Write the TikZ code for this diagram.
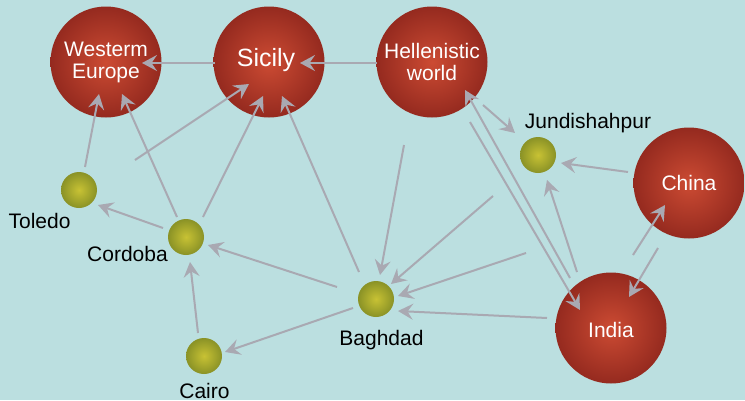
\documentclass[tikz,border=0pt]{standalone}
\usepackage{fontspec}
\setmainfont{Liberation Sans}
\usetikzlibrary{arrows.meta}
\definecolor{bg}{HTML}{BBDFE0}
\definecolor{redin}{HTML}{CC4B33}
\definecolor{redout}{HTML}{952A1F}
\definecolor{grin}{HTML}{C8C234}
\definecolor{grout}{HTML}{8A9226}
\definecolor{arrc}{HTML}{A9A9B2}
\pgfdeclareradialshading{redball}{\pgfpoint{0bp}{0bp}}{color(0bp)=(redin); color(25bp)=(redout); color(50bp)=(redout)}
\pgfdeclareradialshading{greenball}{\pgfpoint{0bp}{0bp}}{color(0bp)=(grin); color(25bp)=(grout); color(50bp)=(grout)}
\begin{document}
\begin{tikzpicture}[x=1pt,y=-1pt,
  big/.style={circle, minimum size=111pt, inner sep=0pt, shading=redball, text=white,
    font=\fontsize{21}{22}\selectfont, align=center},
  small/.style={circle, minimum size=36pt, inner sep=0pt, shading=greenball},
  lbl/.style={anchor=base, font=\fontsize{21}{22}\selectfont, text=black, inner sep=0pt},
  arr/.style={draw=arrc, line width=2pt, -{Stealth[length=15pt,width=16pt,inset=5.5pt]}}]
\fill[bg] (0,0) rectangle (745,400);
\useasboundingbox (0,0) rectangle (745,400);

% big nodes
\node[big] (we)  at (106,62)  {Westerm\\Europe};
\node[big, font=\fontsize{25}{27}\selectfont, text depth=10pt] (sic) at (269,62) {\hspace*{-6pt}Sicily};
\node[big] (hel) at (432,62)  {Hellenistic\\world};
\node[big] (chi) at (689,183) {China};
\node[big, text height=20pt] (ind) at (611,328) {India};

% small nodes
\node[small] (tol) at (79,190)  {};
\node[small] (cor) at (186,237) {};
\node[small] (cai) at (204,356) {};
\node[small] (bag) at (376,299) {};
\node[small] (jun) at (538,155) {};

% labels
\node[lbl] (toll) at (39.5,228) {Toledo};
\node[lbl] (corl) at (127.5,261) {Cordoba};
\node[lbl] (cail) at (204.5,398) {Cairo};
\node[lbl] (bagl) at (381.5,345) {Baghdad};
\node[lbl] (junl) at (588,128) {Jundishahpur};

% free ends
\coordinate (f5)  at (135,160);
\coordinate (f10) at (404,145);
\coordinate (f11) at (493,196);
\coordinate (f12) at (526,253);
\coordinate (f22) at (470,122);

% connectors
\draw[arr] ([shift={(-54,1)}]sic.center) -- ([shift={(36,1)}]we.center);
\draw[arr] ([shift={(-55,1)}]hel.center) -- ([shift={(31,1)}]sic.center);
\draw[arr] ([shift={(6,-23)}]tol.center) -- ([shift={(-7,32)}]we.center);
\draw[arr] ([shift={(-9,-20)}]cor.center) -- ([shift={(16,32)}]we.center);
\draw[arr] (f5) -- ([shift={(-20,22)}]sic.center);
\draw[arr] ([shift={(17,-20)}]cor.center) -- ([shift={(-6,34)}]sic.center);
\draw[arr] ([shift={(-17,-27)}]bag.center) -- ([shift={(13,34)}]sic.center);
\draw[arr] ([shift={(51,43)}]hel.center) -- ([shift={(-23,-22)}]jun.center);
\draw[arr] ([shift={(-41,-50)}]ind.center) -- ([shift={(33,28)}]hel.center);
\draw[arr] (f10) -- ([shift={(4,-24)}]bag.center);
\draw[arr] (f11) -- ([shift={(15,-15)}]bag.center);
\draw[arr] (f12) -- ([shift={(22,-3)}]bag.center);
\draw[arr] ([shift={(-64,-10)}]ind.center) -- ([shift={(22,12)}]bag.center);
\draw[arr] ([shift={(-39,-12)}]bag.center) -- ([shift={(22,8)}]cor.center);
\draw[arr] ([shift={(-23,9)}]bag.center) -- ([shift={(21,-4)}]cai.center);
\draw[arr] ([shift={(-6,-23)}]cai.center) -- ([shift={(4,25)}]cor.center);
\draw[arr] ([shift={(-23,-9)}]cor.center) -- ([shift={(19,15)}]tol.center);
\draw[arr] ([shift={(-61,-11)}]chi.center) -- ([shift={(23,8)}]jun.center);
\draw[arr] ([shift={(22,-73)}]ind.center) -- ([shift={(-24,22)}]chi.center);
\draw[arr] ([shift={(-31,65)}]chi.center) -- ([shift={(18,-31)}]ind.center);
\draw[arr] ([shift={(-34,-56)}]ind.center) -- ([shift={(9,25)}]jun.center);
\draw[arr] (f22) -- ([shift={(-31,-18)}]ind.center);
\end{tikzpicture}
\end{document}
